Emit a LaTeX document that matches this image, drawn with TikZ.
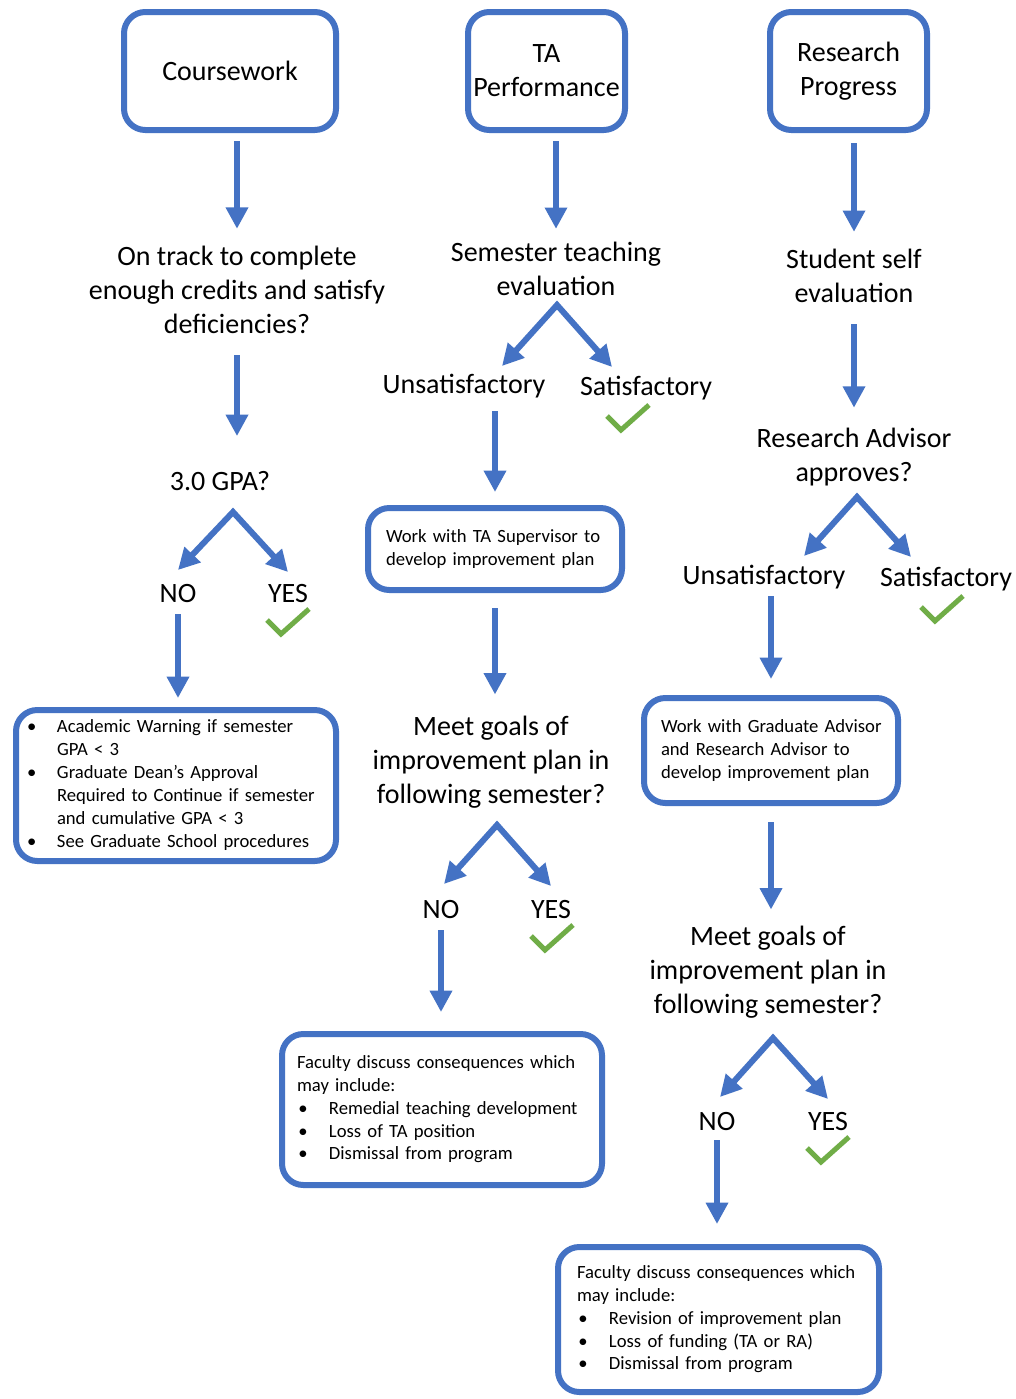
\documentclass[tikz,border=0pt]{standalone}
\usepackage{fontspec}
\setmainfont{Carlito}
\usetikzlibrary{arrows.meta}
\definecolor{obl}{HTML}{4472C4}
\definecolor{ogr}{HTML}{70AD47}
\newcommand\fbig{\fontsize{21}{25.6}\selectfont}
\newcommand\fsmall{\fontsize{14}{17.2}\selectfont}
\newcommand\bulA{\makebox[22.5pt][l]{\textbullet}}
\newcommand\bulB{\makebox[24pt][l]{\hspace{1pt}\textbullet}}
\tikzset{
  arr/.style={draw=obl, line width=4.5pt, -{Triangle[length=16pt,width=16pt]}},
  fork/.style={draw=obl, line width=4.5pt, line join=miter,
    {Triangle[length=16pt,width=16pt]}-{Triangle[length=16pt,width=16pt]}},
  topbox/.style={draw=obl, line width=4.5pt, rounded corners=16pt, align=center,
    font=\fbig, inner sep=2pt, minimum height=88.5pt},
  planbox/.style={draw=obl, line width=4.5pt, rounded corners=16pt, align=left,
    font=\fsmall, inner ysep=2pt},
  txt/.style={font=\fbig, align=center, inner sep=0pt},
  chk/.style={draw=ogr, line width=3.75pt},
  tick/.pic={\draw[chk] (-14,-14) -- (0,0) -- (28,-25);}
}
\begin{document}
\begin{tikzpicture}[x=0.75pt,y=-0.75pt]
\fill[white] (0,0) rectangle (1016,1399);
\useasboundingbox (0,0) rectangle (1016,1399);

% top boxes
\node[topbox, minimum width=159pt] (cw) at (230,71) {Coursework};
\node[topbox, minimum width=117.75pt] (ta) at (546.5,71) {TA\\Performance};
\node[topbox, minimum width=117.75pt] (rp) at (848.5,71) {Research\\Progress};

% column 1
\node[txt] (q1) at (237,290) {On track to complete\\enough credits and satisfy\\deficiencies?};
\node[txt] (gpa) at (220,481) {3.0 GPA?};
\node[txt] (no1) at (178,594) {NO};
\node[txt] (yes1) at (288,594) {YES};
\node[planbox, minimum width=240pt, minimum height=113.25pt, text width=223.5pt, inner xsep=8.25pt] (cwb) at (176,785.5)
 {\begin{tabular}{@{}l@{}l@{}}
 \bulA & Academic Warning if semester\\
       & GPA < 3\\
 \bulA & Graduate Dean’s Approval\\
       & Required to Continue if semester\\
       & and cumulative GPA < 3\\
 \bulA & See Graduate School procedures
 \end{tabular}};

% column 2
\node[txt] (ste) at (556,269) {Semester teaching\\evaluation};
\node[txt] (uns1) at (464,386) {Unsatisfactory};
\node[txt] (sat1) at (646,388) {Satisfactory};
\node[planbox, minimum width=190.5pt, minimum height=61.5pt, text width=163.5pt, inner xsep=13.5pt] (tas) at (495,549)
 {\begin{tabular}{@{}l@{}}Work with TA Supervisor to\\develop improvement plan\end{tabular}};
\node[txt] (mg1) at (491,762) {Meet goals of\\improvement plan in\\following semester?};
\node[txt] (no2) at (441,909) {NO};
\node[txt] (yes2) at (551,909) {YES};
\node[planbox, minimum width=240pt, minimum height=113.25pt, text width=217.5pt, inner xsep=11.25pt] (tab) at (442,1109.5)
 {\begin{tabular}{@{}l@{}l@{}}
 \multicolumn{2}{@{}l@{}}{Faculty discuss consequences which}\\
 \multicolumn{2}{@{}l@{}}{may include:}\\
 \bulB & Remedial teaching development\\
 \bulB & Loss of TA position\\
 \bulB & Dismissal from program
 \end{tabular}};

% column 3
\node[txt] (sse) at (854,276) {Student self\\evaluation};
\node[txt] (raa) at (854,457) {Research Advisor\\approves?};
\node[txt] (uns2) at (764,577) {Unsatisfactory};
\node[txt] (sat2) at (946,579) {Satisfactory};
\node[planbox, minimum width=190.5pt, minimum height=78.75pt, text width=165pt, inner xsep=12.75pt] (grb) at (771,750.5)
 {\begin{tabular}{@{}l@{}}Work with Graduate Advisor\\and Research Advisor to\\develop improvement plan\end{tabular}};
\node[txt] (mg2) at (768,972) {Meet goals of\\improvement plan in\\following semester?};
\node[txt] (no3) at (717,1121) {NO};
\node[txt] (yes3) at (828,1121) {YES};
\node[planbox, minimum width=240.75pt, minimum height=108.75pt, text width=212.25pt, inner xsep=14.25pt] (rb) at (718.5,1319.5)
 {\begin{tabular}{@{}l@{}l@{}}
 \multicolumn{2}{@{}l@{}}{Faculty discuss consequences which}\\
 \multicolumn{2}{@{}l@{}}{may include:}\\
 \bulB & Revision of improvement plan\\
 \bulB & Loss of funding (TA or RA)\\
 \bulB & Dismissal from program
 \end{tabular}};

% vertical arrows
\draw[arr, shorten <=6pt, shorten >=12.75pt] (cw.south -| q1.north) -- (q1.north);
\draw[arr, shorten <=6pt, shorten >=9.75pt] (ta.south -| ste.north) -- (ste.north);
\draw[arr, shorten <=7.5pt, shorten >=12.75pt] (rp.south -| sse.north) -- (sse.north);
\draw[arr, shorten <=15.75pt, shorten >=26.25pt] (q1.south) -- (q1.south |- gpa.north);
\draw[arr, shorten <=8.25pt, shorten >=6.75pt] (no1.south) -- (no1.south |- cwb.north);
\draw[arr, shorten <=9.75pt, shorten >=9.75pt] (uns1.south -| tas.north) -- (tas.north);
\draw[arr, shorten <=11.25pt, shorten >=15.75pt] (tas.south) -- (tas.south |- mg1.north);
\draw[arr, shorten <=9pt, shorten >=14.25pt] (no2.south) -- (no2.south |- tab.north);
\draw[arr, shorten <=15.75pt, shorten >=15pt] (sse.south) -- (sse.south |- raa.north);
\draw[arr, shorten <=5.25pt, shorten >=12pt] (uns2.south -| grb.north) -- (grb.north);
\draw[arr, shorten <=12pt, shorten >=12pt] (grb.south) -- (grb.south |- mg2.north);
\draw[arr, shorten <=7.5pt, shorten >=15pt] (no3.south) -- (no3.south |- rb.north);

% forks
\coordinate (f1l) at (178,570); \coordinate (f1a) at (233,512); \coordinate (f1r) at (288,572);
\coordinate (f2l) at (502,366); \coordinate (f2a) at (557,305); \coordinate (f2r) at (612,367);
\coordinate (f3l) at (444,884); \coordinate (f3a) at (497,825); \coordinate (f3r) at (551,886);
\coordinate (f4l) at (804,556); \coordinate (f4a) at (857,497); \coordinate (f4r) at (911,557);
\coordinate (f5l) at (720,1097); \coordinate (f5a) at (773,1038); \coordinate (f5r) at (828,1099);
\draw[fork] (f1l) -- (f1a) -- (f1r);
\draw[fork] (f2l) -- (f2a) -- (f2r);
\draw[fork] (f3l) -- (f3a) -- (f3r);
\draw[fork] (f4l) -- (f4a) -- (f4r);
\draw[fork] (f5l) -- (f5a) -- (f5r);

% check marks
\pic at (281,634) {tick};
\pic at (621,430) {tick};
\pic at (935,621) {tick};
\pic at (545,950) {tick};
\pic at (821,1162) {tick};
\end{tikzpicture}
\end{document}
